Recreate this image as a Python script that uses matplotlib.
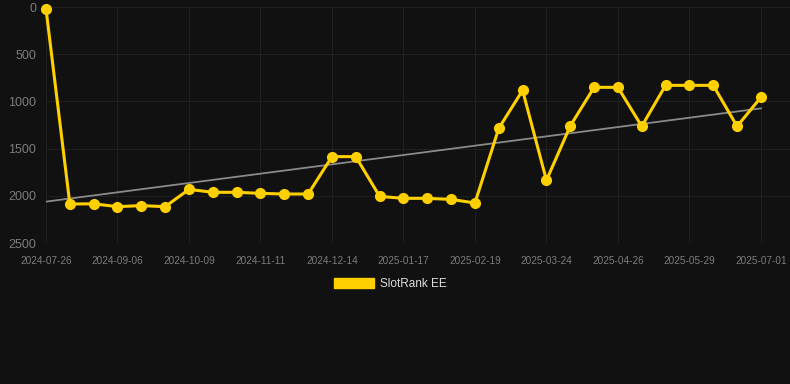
import numpy as np
import matplotlib
matplotlib.use("Agg")
import matplotlib.pyplot as plt

# rank values (lower = better), one per weekly point
ranks = [20, 2087, 2085, 2115, 2104, 2115, 1932, 1963, 1963, 1974, 1981,
         1981, 1585, 1585, 2006, 2027, 2027, 2038, 2076, 1285, 883,
         1836, 1260, 851, 851, 1264, 830, 830, 830, 1264, 957]
# tick labels shown every 3rd point
tick_labels = ['2024-07-26', '2024-09-06', '2024-10-09', '2024-11-11',
               '2024-12-14', '2025-01-17', '2025-02-19', '2025-03-24',
               '2025-04-26', '2025-05-29', '2025-07-01']
# trend line start/end values
trend = [2062, 1074]

plt.rcParams['font.family'] = ['Liberation Sans', 'DejaVu Sans']
bg = '#111111'
gold = '#FFD000'

fig = plt.figure(figsize=(7.9, 3.84), dpi=100, facecolor=bg)
ax = fig.add_axes([46/790, 1-243/384, 1-46/790, (243-7)/384])
ax.set_facecolor(bg)

x = np.arange(len(ranks))
ax.plot([0, len(ranks)-1], trend, color='#8a8a8a', lw=1.3, zorder=2)
ax.plot(x, ranks, color=gold, lw=2.2, marker='o', ms=7, zorder=3,
        clip_on=False, label='SlotRank EE')

ax.set_xlim(0, (790-46)/23.83)
ax.set_ylim(2500, 0)
ax.set_yticks([0, 500, 1000, 1500, 2000, 2500])
ax.set_xticks(np.arange(0, len(ranks), 3))
ax.set_xticklabels(tick_labels)
ax.tick_params(axis='y', colors='#7c7c7c', labelsize=9, length=0, pad=7)
ax.tick_params(axis='x', colors='#7c7c7c', labelsize=7.2, length=0, pad=9)
ax.grid(True, color='#1f1f1f', lw=0.8)
for s in ax.spines.values():
    s.set_visible(False)

leg = fig.legend(handles=[plt.Rectangle((0, 0), 1, 1, color=gold)],
                 labels=['SlotRank EE'], loc='center',
                 bbox_to_anchor=(390/790, 1-284/384), frameon=False,
                 handlelength=3.4, handleheight=0.95, fontsize=8.5,
                 labelcolor='#dddddd', handletextpad=0.5)

fig.savefig('out.png', dpi=100, facecolor=bg)
